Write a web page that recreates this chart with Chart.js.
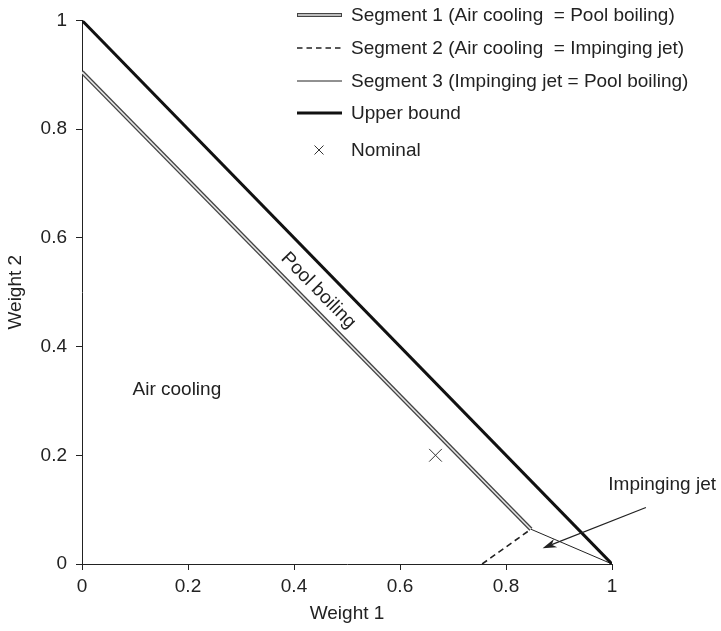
<!DOCTYPE html>
<html>
<head>
<meta charset="utf-8">
<script src="https://cdn.jsdelivr.net/npm/chart.js@4/dist/chart.umd.min.js"></script>
<style>
  html, body { margin: 0; padding: 0; background: #fff; }
  canvas { display: block; }
</style>
</head>
<body>
<canvas id="c" width="721" height="631"></canvas>
<script>
// ---- data ----
const xTickValues = [0, 0.2, 0.4, 0.6, 0.8, 1];
const yTickValues = [0, 0.2, 0.4, 0.6, 0.8, 1];

const segment1X = [0, 0.847];
const segment1Y = [0.905, 0.064];
const segment2X = [0.755, 0.847];
const segment2Y = [0, 0.064];
const segment3X = [0.847, 1];
const segment3Y = [0.064, 0];
const upperBoundX = [0, 1];
const upperBoundY = [1, 0];
const nominalX = [0.667];
const nominalY = [0.2];

const seriesLabels = [
  'Segment 1 (Air cooling  = Pool boiling)',
  'Segment 2 (Air cooling  = Impinging jet)',
  'Segment 3 (Impinging jet = Pool boiling)',
  'Upper bound',
  'Nominal'
];
const xTitle = 'Weight 1';
const yTitle = 'Weight 2';

function pts(xs, ys) { return xs.map((x, i) => ({ x: x, y: ys[i] })); }

const FONT = "'Liberation Sans', Arial, Helvetica, sans-serif";
const TXT = '#222';

// ---- annotations (placed in data coordinates) ----
const annotations = [
  { text: 'Air cooling', x: 0.179, y: 0.32, rotate: false, align: 'center' },
  { text: 'Pool boiling', x: 0.446, y: 0.503, rotate: true, align: 'center' },
  { text: 'Impinging jet', x: 0.993, y: 0.146, rotate: false, align: 'left' }
];
const arrowFrom = { x: 1.064, y: 0.104 };
const arrowTo = { x: 0.869, y: 0.029 };

const overlayPlugin = {
  id: 'overlay',
  afterDraw(chart) {
    const ctx = chart.ctx;
    const xs = chart.scales.x, ys = chart.scales.y;
    ctx.save();
    ctx.font = '19px ' + FONT;
    ctx.fillStyle = TXT;
    ctx.textBaseline = 'middle';
    // annotations
    const angle = Math.atan2(ys.getPixelForValue(0) - ys.getPixelForValue(1),
                             xs.getPixelForValue(1) - xs.getPixelForValue(0));
    annotations.forEach(a => {
      const px = xs.getPixelForValue(a.x), py = ys.getPixelForValue(a.y);
      ctx.save();
      ctx.translate(px, py);
      if (a.rotate) ctx.rotate(angle);
      ctx.textAlign = a.align;
      ctx.fillText(a.text, 0, 0);
      ctx.restore();
    });
    // arrow
    const ax0 = xs.getPixelForValue(arrowFrom.x), ay0 = ys.getPixelForValue(arrowFrom.y);
    const ax1 = xs.getPixelForValue(arrowTo.x), ay1 = ys.getPixelForValue(arrowTo.y);
    const ang = Math.atan2(ay1 - ay0, ax1 - ax0);
    const headLen = 14, headW = 4.5;
    ctx.strokeStyle = '#222';
    ctx.lineWidth = 1.2;
    ctx.beginPath();
    ctx.moveTo(ax0, ay0);
    ctx.lineTo(ax1 - Math.cos(ang) * headLen * 0.7, ay1 - Math.sin(ang) * headLen * 0.7);
    ctx.stroke();
    ctx.beginPath();
    const bx = ax1 - Math.cos(ang) * headLen, by = ay1 - Math.sin(ang) * headLen;
    ctx.moveTo(ax1, ay1);
    ctx.lineTo(bx + Math.sin(ang) * headW, by - Math.cos(ang) * headW);
    ctx.lineTo(ax1 - Math.cos(ang) * headLen * 0.7, ay1 - Math.sin(ang) * headLen * 0.7);
    ctx.lineTo(bx - Math.sin(ang) * headW, by + Math.cos(ang) * headW);
    ctx.closePath();
    ctx.fillStyle = '#222';
    ctx.fill();

    // legend
    const lx0 = 297, lx1 = 342, tx = 351;
    const rows = [15, 48, 81, 113, 150];
    ctx.fillStyle = TXT;
    ctx.textAlign = 'left';
    seriesLabels.forEach((lab, i) => {
      const y = rows[i];
      ctx.save();
      ctx.lineCap = 'butt';
      if (i === 0) {
        ctx.strokeStyle = '#444'; ctx.lineWidth = 4;
        ctx.beginPath(); ctx.moveTo(lx0, y); ctx.lineTo(lx1, y); ctx.stroke();
        ctx.strokeStyle = '#e6e6e6'; ctx.lineWidth = 1.6;
        ctx.beginPath(); ctx.moveTo(lx0 + 1, y); ctx.lineTo(lx1 - 1, y); ctx.stroke();
      } else if (i === 1) {
        ctx.strokeStyle = '#222'; ctx.lineWidth = 1.5; ctx.setLineDash([5.5, 4]);
        ctx.beginPath(); ctx.moveTo(lx0, y); ctx.lineTo(lx1, y); ctx.stroke();
      } else if (i === 2) {
        ctx.strokeStyle = '#222'; ctx.lineWidth = 1;
        ctx.beginPath(); ctx.moveTo(lx0, y); ctx.lineTo(lx1, y); ctx.stroke();
      } else if (i === 3) {
        ctx.strokeStyle = '#111'; ctx.lineWidth = 3;
        ctx.beginPath(); ctx.moveTo(lx0, y); ctx.lineTo(lx1, y); ctx.stroke();
      } else {
        const cx = 319, r = 4.5;
        ctx.strokeStyle = '#333'; ctx.lineWidth = 1;
        ctx.beginPath();
        ctx.moveTo(cx - r, y - r); ctx.lineTo(cx + r, y + r);
        ctx.moveTo(cx - r, y + r); ctx.lineTo(cx + r, y - r);
        ctx.stroke();
      }
      ctx.restore();
      ctx.fillText(lab, tx, y + 1);
    });
    ctx.restore();
  }
};

new Chart(document.getElementById('c'), {
  type: 'scatter',
  data: {
    datasets: [
      { label: seriesLabels[0] + ' inner', data: pts(segment1X, segment1Y), showLine: true,
        borderColor: '#e6e6e6', borderWidth: 1.6, pointRadius: 0, order: 1 },
      { label: seriesLabels[0], data: pts(segment1X, segment1Y), showLine: true,
        borderColor: '#444', borderWidth: 4.2, pointRadius: 0, order: 2 },
      { label: seriesLabels[1], data: pts(segment2X, segment2Y), showLine: true,
        borderColor: '#222', borderWidth: 1.6, borderDash: [6, 4], pointRadius: 0, order: 3 },
      { label: seriesLabels[2], data: pts(segment3X, segment3Y), showLine: true,
        borderColor: '#222', borderWidth: 1, pointRadius: 0, order: 4 },
      { label: seriesLabels[3], data: pts(upperBoundX, upperBoundY), showLine: true,
        borderColor: '#111', borderWidth: 3, pointRadius: 0, order: 0 },
      { label: seriesLabels[4], data: pts(nominalX, nominalY), showLine: false,
        pointStyle: 'crossRot', pointRadius: 9, borderColor: '#333', borderWidth: 1,
        backgroundColor: '#333', order: 0 }
    ]
  },
  options: {
    responsive: false,
    devicePixelRatio: 1,
    animation: false,
    events: [],
    layout: { padding: { top: 14, right: 109, left: 0, bottom: 0 } },
    plugins: { legend: { display: false }, tooltip: { enabled: false } },
    scales: {
      x: {
        type: 'linear', min: 0, max: 1,
        afterBuildTicks: s => { s.ticks = xTickValues.map(v => ({ value: v })); },
        afterFit: s => { s.height = 67; },
        ticks: { font: { family: FONT, size: 19 }, color: TXT, padding: 5,
                 autoSkip: false, maxRotation: 0, callback: v => String(v) },
        grid: { drawOnChartArea: false, drawTicks: true, tickLength: 6, color: '#222' },
        border: { display: true, color: '#222', width: 1 },
        title: { display: true, text: xTitle, font: { family: FONT, size: 19 }, color: TXT,
                 padding: { top: 0, bottom: 6 } }
      },
      y: {
        type: 'linear', min: 0, max: 1,
        afterBuildTicks: s => { s.ticks = yTickValues.map(v => ({ value: v })); },
        afterFit: s => { s.width = 82; },
        ticks: { font: { family: FONT, size: 19 }, color: TXT, padding: 9,
                 autoSkip: false, callback: v => String(v) },
        grid: { drawOnChartArea: false, drawTicks: true, tickLength: 6, color: '#222' },
        border: { display: true, color: '#222', width: 1 },
        title: { display: true, text: yTitle, font: { family: FONT, size: 19 }, color: TXT,
                 padding: { top: 4, bottom: 0 } }
      }
    }
  },
  plugins: [overlayPlugin]
});
</script>
</body>
</html>
